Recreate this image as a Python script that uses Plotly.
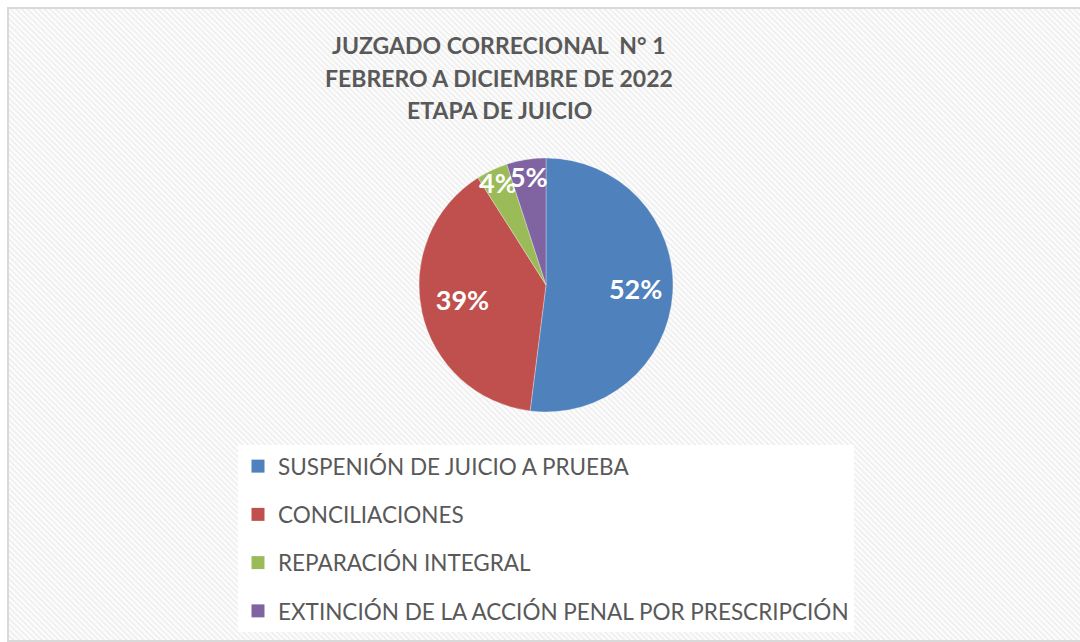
import base64
import plotly.graph_objects as go

# ---- data ----
categories = [
    "SUSPENIÓN DE JUICIO A PRUEBA",
    "CONCILIACIONES",
    "REPARACIÓN INTEGRAL",
    "EXTINCIÓN DE LA ACCIÓN PENAL POR PRESCRIPCIÓN",
]
values = [52, 39, 4, 5]
colors = ["#4F81BD", "#C0504D", "#9BBB59", "#8064A2"]
title_lines = [
    "JUZGADO CORRECIONAL  N° 1",
    "FEBRERO A DICIEMBRE DE 2022",
    "ETAPA DE JUICIO",
]

W, H = 1080, 642
FONT = "Lato"
NB = "\u00a0"

# label templates nudge the big labels outward like the reference
label_templates = [
    NB * 8 + "%{percent:.0%}",
    "%{percent:.0%}" + NB * 6,
    "%{percent:.0%}",
    "%{percent:.0%}",
]

fig = go.Figure()

fig.add_trace(go.Pie(
    labels=categories,
    values=values,
    sort=False,
    direction="clockwise",
    rotation=0,
    marker=dict(colors=colors, line=dict(color="rgba(255,255,255,0.6)", width=0.5)),
    texttemplate=label_templates,
    textposition="inside",
    insidetextorientation="horizontal",
    textfont=dict(family=FONT, size=27, color="white", weight="bold"),
    domain=dict(x=[(546 - 127) / W, (546 + 127) / W],
                y=[(H - 412) / H, (H - 158) / H]),
    showlegend=False,
    hoverinfo="label+percent",
))

# legend entries (one per category, spaced as in the reference)
for i, (name, col) in enumerate(zip(categories, colors)):
    fig.add_trace(go.Scatter(
        x=[None], y=[None], mode="markers", name=name,
        marker=dict(symbol="square", size=13, color=col),
        legendgroup=f"g{i}", showlegend=True,
    ))

# hatched background
svg = (
    '<svg xmlns="http://www.w3.org/2000/svg" width="1080" height="642">'
    '<defs><pattern id="p" width="4" height="4" patternUnits="userSpaceOnUse" '
    'patternTransform="rotate(-45)">'
    '<rect width="4" height="4" fill="#fdfdfd"/>'
    '<rect width="2" height="4" fill="#f0f0f0"/></pattern></defs>'
    '<rect width="1080" height="642" fill="url(#p)"/></svg>'
)
img_src = "data:image/svg+xml;base64," + base64.b64encode(svg.encode()).decode()

annotations = []
for k, line in enumerate(title_lines):
    annotations.append(dict(
        text=line, x=499 / W, y=1 - (45 + 32.5 * k) / H,
        xref="paper", yref="paper", xanchor="center", yanchor="middle",
        showarrow=False,
        font=dict(family=FONT, size=23, color="#595959", weight="bold"),
    ))

fig.update_layout(
    width=W, height=H,
    margin=dict(l=0, r=0, t=0, b=0),
    paper_bgcolor="white",
    plot_bgcolor="rgba(0,0,0,0)",
    xaxis=dict(visible=False),
    yaxis=dict(visible=False),
    uniformtext=dict(minsize=27, mode="show"),
    images=[dict(source=img_src, xref="paper", yref="paper", x=8 / W, y=1 - 8 / H,
                 sizex=1, sizey=1, xanchor="left", yanchor="top",
                 sizing="stretch", layer="below")],
    shapes=[dict(type="rect", xref="paper", yref="paper",
                 x0=8 / W, x1=1.01, y0=1 / H, y1=1 - 8 / H,
                 line=dict(color="#d9d9d9", width=2), fillcolor="rgba(0,0,0,0)")],
    annotations=annotations,
    legend=dict(
        x=238 / W, y=1 - 445 / H, xanchor="left", yanchor="top",
        bgcolor="white", borderwidth=0,
        font=dict(family=FONT, size=22.5, color="#595959"),
        tracegroupgap=16, itemclick=False, itemdoubleclick=False,
    ),
    showlegend=True,
)

fig.write_html(
    "out.html",
    config={"displayModeBar": False},
    post_script="document.body.style.margin='0';document.body.style.overflow='hidden';",
)
